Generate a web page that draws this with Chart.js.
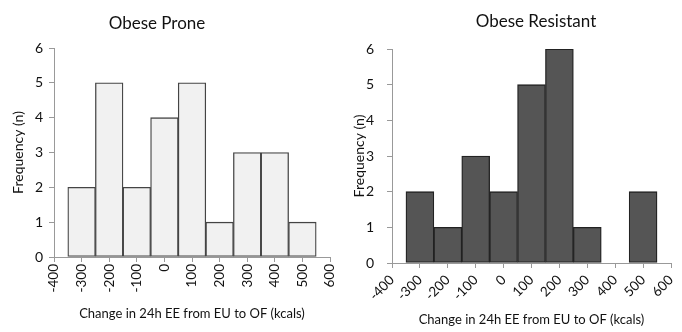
<!DOCTYPE html>
<html>
<head>
<meta charset="utf-8">
<script src="https://cdn.jsdelivr.net/npm/chart.js@4"></script>
<style>
  body { margin: 0; background: #fff; }
  #wrap { position: relative; width: 682px; height: 332px; font-family: Lato, sans-serif; }
  .box { position: absolute; top: 0; width: 341px; height: 332px; }
  .title { position: absolute; font-size: 17px; color: #111; white-space: nowrap; transform: translateX(-50%); }
</style>
</head>
<body>
<div id="wrap">
  <div class="box" style="left:0"><canvas id="proneChart" width="341" height="332"></canvas></div>
  <div class="box" style="left:341px"><canvas id="resistChart" width="341" height="332"></canvas></div>
  <div class="title" id="proneTitle" style="left:157px; top:12px"></div>
  <div class="title" id="resistTitle" style="left:536px; top:10px"></div>
</div>
<script>
// bin centres (kcals) and counts
const binCenters = [-300, -200, -100, 0, 100, 200, 300, 400, 500];
const proneCounts = [2, 5, 2, 4, 5, 1, 3, 3, 1];
const resistCounts = [2, 1, 3, 2, 5, 6, 1, 0, 2];
const xTickValues = [-400, -300, -200, -100, 0, 100, 200, 300, 400, 500, 600];
const yTickValues = [0, 1, 2, 3, 4, 5, 6];
const proneTitle = "Obese Prone";
const resistTitle = "Obese Resistant";
const xTitle = "Change in 24h EE from EU to OF (kcals)";
const yTitle = "Frequency (n)";

document.querySelector("#proneTitle").textContent = proneTitle;
document.querySelector("#resistTitle").textContent = resistTitle;

Chart.defaults.font.family = "Lato, sans-serif";
Chart.defaults.color = "#111";

function drawHisto(canvasId, counts, opts) {
  let points = binCenters.map((c, i) => ({ x: c, y: counts[i] }));
  return new Chart(document.querySelector(canvasId), {
    type: "bar",
    data: {
      datasets: [
        {
          data: points,
          backgroundColor: opts.fill,
          borderColor: opts.border,
          borderWidth: 1.3,
          borderSkipped: false,
          categoryPercentage: 1,
          barPercentage: 1,
        },
      ],
    },
    options: {
      responsive: false,
      animation: false,
      layout: { padding: { top: opts.top, right: 11, left: 10, bottom: 0 } },
      plugins: { legend: { display: false }, tooltip: { enabled: false } },
      scales: {
        x: {
          type: "linear",
          min: -400,
          max: 600,
          offset: false,
          afterBuildTicks: (axis) => {
            axis.ticks = xTickValues.map((v) => ({ value: v }));
          },
          afterFit: (axis) => {
            axis.height = opts.xHeight;
            axis.paddingLeft = 0;
            axis.paddingRight = 0;
          },
          ticks: {
            autoSkip: false,
            minRotation: opts.rot,
            maxRotation: opts.rot,
            padding: opts.xTickPad,
            font: { size: 13.5 },
          },
          grid: { offset: false, drawOnChartArea: false, tickLength: 5, color: "#999" },
          border: { color: "#999" },
          title: { display: true, text: xTitle, font: { size: 13 }, padding: { top: 0, bottom: opts.xTitlePad } },
        },
        y: {
          min: 0,
          max: 6,
          afterBuildTicks: (axis) => {
            axis.ticks = yTickValues.map((v) => ({ value: v }));
          },
          afterFit: (axis) => {
            axis.width = opts.yWidth;
          },
          ticks: { padding: opts.yTickPad, font: { size: 14 } },
          grid: { drawOnChartArea: false, tickLength: 5, color: "#999" },
          border: { color: "#999" },
          title: { display: true, text: yTitle, font: { size: 14 }, padding: 0 },
        },
      },
    },
  });
}

drawHisto("#proneChart", proneCounts, {
  fill: "#f1f1f1",
  border: "#444",
  rot: 90,
  top: 48,
  xHeight: 75,
  yWidth: 44,
  yTickPad: 6,
  xTickPad: 2,
  xTitlePad: 10,
});

drawHisto("#resistChart", resistCounts, {
  fill: "#555555",
  border: "#222",
  rot: 45,
  top: 49,
  xHeight: 69,
  yWidth: 41,
  yTickPad: 13,
  xTickPad: 4,
  xTitlePad: 4,
});
</script>
</body>
</html>
